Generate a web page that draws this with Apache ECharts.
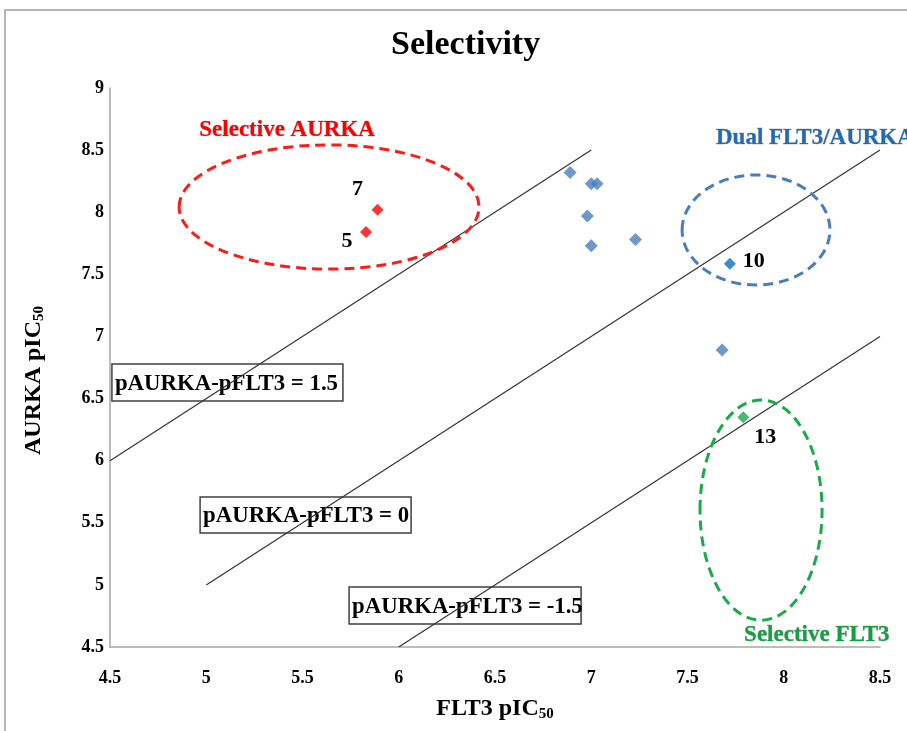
<!DOCTYPE html>
<html>
<head>
<meta charset="utf-8">
<script src="https://cdn.jsdelivr.net/npm/echarts@6/dist/echarts.min.js"></script>
<style>
html,body{margin:0;padding:0;background:#fff;}
#c{width:907px;height:731px;}
</style>
</head>
<body>
<div id="c"></div>
<script>
// ---- data ----
var titleText = 'Selectivity';
var xTicks = [4.5, 5, 5.5, 6, 6.5, 7, 7.5, 8, 8.5];
var yTicks = [4.5, 5, 5.5, 6, 6.5, 7, 7.5, 8, 8.5, 9];
var redPoints = [[5.83, 7.84, '5'], [5.89, 8.02, '7']];
var bluePoints = [[6.89, 8.32], [7.00, 8.23], [7.03, 8.23], [6.98, 7.97], [7.00, 7.73], [7.23, 7.78], [7.68, 6.89]];
var point10 = [[7.72, 7.585, '10']];
var point13 = [[7.79, 6.35, '13']];
var lineUpper = [[4.5, 6.0], [7.0, 8.5]];   // pAURKA - pFLT3 = 1.5
var lineMid = [[5.0, 5.0], [8.5, 8.5]];     // pAURKA - pFLT3 = 0
var lineLower = [[6.0, 4.5], [8.5, 7.0]];   // pAURKA - pFLT3 = -1.5
var boxTexts = ['pAURKA-pFLT3 = 1.5', 'pAURKA-pFLT3 = 0', 'pAURKA-pFLT3 = -1.5'];
var groupTexts = ['Selective AURKA', 'Dual FLT3/AURKA', 'Selective FLT3'];

var FONT = '"Liberation Serif", "DejaVu Serif", serif';
var chart = echarts.init(document.getElementById('c'));

var subRich = { sub: { fontFamily: FONT, fontWeight: 'bold', fontSize: 15, color: '#000', verticalAlign: 'bottom', padding: [12, 0, 0, 0] } };

var option = {
  animation: false,
  backgroundColor: '#fff',
  title: {
    text: titleText, left: 386, top: 23,
    textStyle: { fontFamily: FONT, fontWeight: 'bold', fontSize: 34, color: '#000' }
  },
  grid: { left: 110, right: 27, top: 88, bottom: 84 },
  xAxis: {
    type: 'value', min: xTicks[0], max: xTicks[xTicks.length - 1], interval: 0.5,
    name: 'FLT3 pIC{sub|50}', nameLocation: 'middle', nameGap: 48,
    nameTextStyle: { fontFamily: FONT, fontWeight: 'bold', fontSize: 24, color: '#000', rich: subRich },
    axisLine: { show: true, lineStyle: { color: '#a6a6a6', width: 1.5 } },
    axisTick: { show: false },
    splitLine: { show: false },
    axisLabel: { fontFamily: FONT, fontWeight: 'bold', fontSize: 18, color: '#000', margin: 22 }
  },
  yAxis: {
    type: 'value', min: yTicks[0], max: yTicks[yTicks.length - 1], interval: 0.5,
    name: 'AURKA pIC{sub|50}', nameLocation: 'middle', nameGap: 63, nameRotate: 90,
    nameTextStyle: { fontFamily: FONT, fontWeight: 'bold', fontSize: 24, color: '#000', rich: subRich, padding: [0, 26, 0, 0] },
    axisLine: { show: true, lineStyle: { color: '#a6a6a6', width: 1.5 } },
    axisTick: { show: false },
    splitLine: { show: false },
    axisLabel: { fontFamily: FONT, fontWeight: 'bold', fontSize: 18, color: '#000', margin: 6 }
  },
  series: [
    { type: 'line', data: lineUpper, symbol: 'none', lineStyle: { color: '#333', width: 1.2 }, z: 1 },
    { type: 'line', data: lineMid, symbol: 'none', lineStyle: { color: '#333', width: 1.2 }, z: 1 },
    { type: 'line', data: lineLower, symbol: 'none', lineStyle: { color: '#333', width: 1.2 }, z: 1 },
    { type: 'scatter', data: bluePoints, symbol: 'diamond', symbolSize: 13, itemStyle: { color: '#4a7ebb' }, z: 3 },
    { type: 'scatter', data: redPoints, symbol: 'diamond', symbolSize: 12, itemStyle: { color: '#ff0000' }, z: 3 },
    { type: 'scatter', data: point10, symbol: 'diamond', symbolSize: 12, itemStyle: { color: '#0a6fc2' }, z: 3 },
    { type: 'scatter', data: point13, symbol: 'diamond', symbolSize: 12, itemStyle: { color: '#1aa84a' }, z: 3 }
  ]
};
chart.setOption(option);

// annotation anchors (data coordinates)
function px(x, y) { return chart.convertToPixel({ gridIndex: 0 }, [x, y]); }
function ellipse(cx, cy, rx, ry, color) {
  var c = px(cx, cy), e = px(cx + rx, cy + ry);
  return {
    type: 'ellipse', silent: true, z: 5,
    shape: { cx: c[0], cy: c[1], rx: Math.abs(e[0] - c[0]), ry: Math.abs(c[1] - e[1]) },
    style: { fill: null, stroke: color, lineWidth: 3, lineDash: [10, 6] }
  };
}
function box(lx, ty, w, h, txt) {
  var c = px(lx, ty);
  return {
    type: 'group', x: c[0], y: c[1], z: 6,
    children: [
      { type: 'rect', shape: { x: 0, y: 0, width: w, height: h },
        style: { fill: '#fff', stroke: '#404040', lineWidth: 1.5 } },
      { type: 'text', x: 3, y: h / 2 + 1, scaleX: 0.95,
        style: { text: txt, font: 'bold 24px ' + FONT, fill: '#000', align: 'left', verticalAlign: 'middle' } }
    ]
  };
}
function groupLabel(x, y, txt, color, align) {
  var c = px(x, y);
  return {
    type: 'text', x: c[0], y: c[1], z: 7,
    style: { text: txt, font: 'bold 23px ' + FONT, fill: color, align: align, verticalAlign: 'middle',
      stroke: 'rgba(0,0,0,0.45)', lineWidth: 0.5 }
  };
}
// point number labels, anchored on the data point with a pixel offset
function pointLabel(pt, dx, dy) {
  var c = px(pt[0], pt[1]);
  return {
    type: 'text', x: c[0] + dx, y: c[1] + dy, z: 8,
    style: { text: pt[2], font: 'bold 22px ' + FONT, fill: '#000', align: 'center', verticalAlign: 'middle' }
  };
}

chart.setOption({
  graphic: [
    { type: 'rect', silent: true, z: 0, shape: { x: 5, y: 10, width: 1000, height: 900 },
      style: { fill: null, stroke: '#a0a0a0', lineWidth: 1.5 } },
    ellipse(5.638, 8.042, 0.779, 0.50, '#ff1a1a'),
    ellipse(7.856, 7.857, 0.384, 0.443, '#4a7ebb'),
    ellipse(7.882, 5.602, 0.317, 0.886, '#1aaa4a'),
    box(4.510, 6.778, 231, 37, boxTexts[0]),
    box(4.968, 5.707, 211, 36, boxTexts[1]),
    box(5.742, 4.982, 232, 37, boxTexts[2]),
    groupLabel(5.42, 8.66, groupTexts[0], '#ff0000', 'center'),
    groupLabel(7.648, 8.60, groupTexts[1], '#1f6bb8', 'left'),
    groupLabel(7.794, 4.60, groupTexts[2], '#12a040', 'left'),
    pointLabel(redPoints[1], -20, -20),
    pointLabel(redPoints[0], -19, 9),
    pointLabel(point10[0], 24, -2),
    pointLabel(point13[0], 22, 20)
  ]
});
</script>
</body>
</html>
